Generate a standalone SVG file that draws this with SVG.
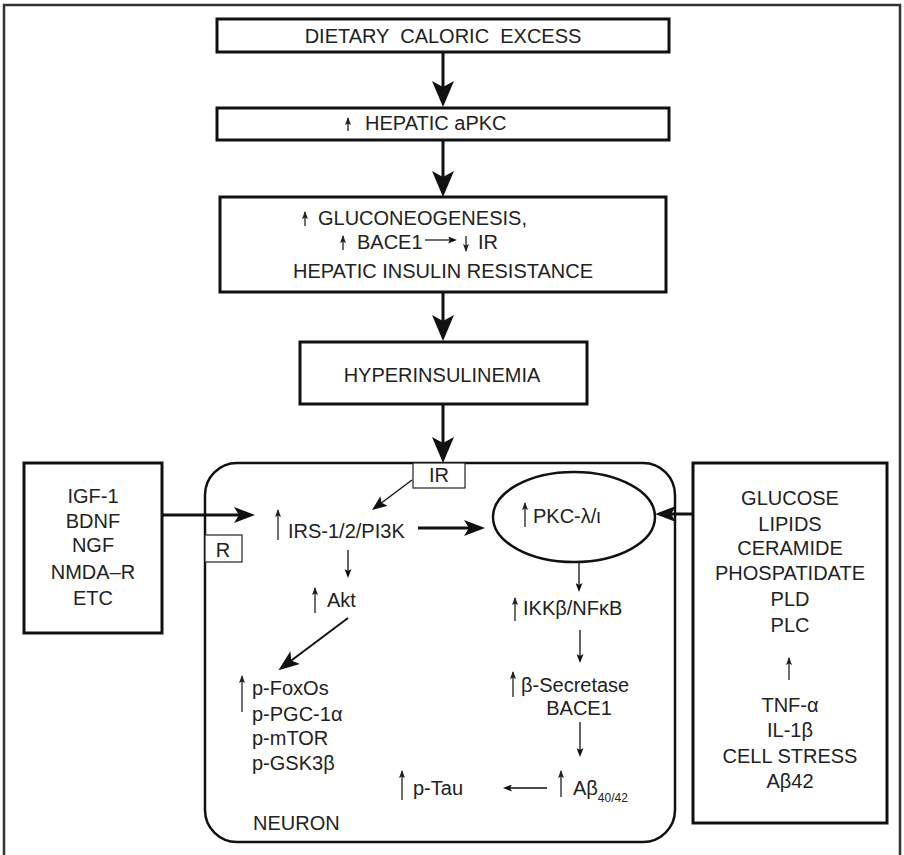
<svg xmlns="http://www.w3.org/2000/svg" width="904" height="855" viewBox="0 0 904 855">
<defs>
<style>
text{font-family:"Liberation Sans",Arial,sans-serif;font-size:20px;fill:#222}
.c{text-anchor:middle}
.box{fill:#fff;stroke:#111;stroke-width:3}
.thin{fill:none;stroke:#222;stroke-width:1.3}
.conn{fill:none;stroke:#111}
.w3{stroke-width:3}
.w2{stroke-width:2}
.w1{stroke-width:1.3}
</style>
<marker id="big" viewBox="0 0 26 22" refX="18" refY="11" markerWidth="26" markerHeight="22" markerUnits="userSpaceOnUse" orient="auto"><path d="M0,0 L26,11 L0,22 L6,11 Z" fill="#111"/></marker>
<marker id="med" viewBox="0 0 21 16" refX="14" refY="8" markerWidth="21" markerHeight="16" markerUnits="userSpaceOnUse" orient="auto"><path d="M0,0 L21,8 L0,16 L5,8 Z" fill="#111"/></marker>
<marker id="mid" viewBox="0 0 15 12" refX="10" refY="6" markerWidth="15" markerHeight="12" markerUnits="userSpaceOnUse" orient="auto"><path d="M0,0 L15,6 L0,12 L3,6 Z" fill="#111"/></marker>
<marker id="small" viewBox="0 0 9 7" refX="7" refY="3.5" markerWidth="9" markerHeight="7" markerUnits="userSpaceOnUse" orient="auto"><path d="M0,0 L9,3.5 L0,7 L2,3.5 Z" fill="#111"/></marker>
<marker id="tiny" viewBox="0 0 8 6" refX="7" refY="3" markerWidth="8" markerHeight="6" markerUnits="userSpaceOnUse" orient="auto"><path d="M0,0 L8,3 L0,6 L1.5,3 Z" fill="#222"/></marker>
</defs>

<rect x="4" y="5" width="896" height="870" fill="#fff" stroke="#333" stroke-width="2.5"/>

<g id="n-diet">
<rect class="box" x="217" y="19" width="452" height="33"/>
<text class="c" x="443" y="43" style="white-space:pre">DIETARY  CALORIC  EXCESS</text>
</g>

<g id="n-apkc">
<rect class="box" x="217" y="108" width="452" height="32"/>
<path class="thin" d="M348,131 V118" marker-end="url(#tiny)"/>
<text x="365" y="130">HEPATIC aPKC</text>
</g>

<g id="n-gluco">
<rect class="box" x="220" y="197" width="446" height="95"/>
<path class="thin" d="M305,226 V212" marker-end="url(#tiny)"/>
<text x="318" y="225">GLUCONEOGENESIS,</text>
<path class="thin" d="M343,250 V236" marker-end="url(#tiny)"/>
<text x="357" y="249">BACE1</text>
<path class="thin" d="M425,240 H455" marker-end="url(#small)"/>
<path class="thin" d="M466,236 V251" marker-end="url(#tiny)"/>
<text x="478" y="249">IR</text>
<text class="c" x="443" y="278">HEPATIC INSULIN RESISTANCE</text>
</g>

<g id="n-hyper">
<rect class="box" x="300" y="342" width="287" height="62"/>
<text class="c" x="442" y="382">HYPERINSULINEMIA</text>
</g>

<g id="n-neuron">
<rect x="205" y="463" width="470" height="379" rx="32" ry="32" fill="#fff" stroke="#111" stroke-width="2.5"/>
<text x="253" y="830">NEURON</text>
</g>

<g id="n-ir">
<rect x="413" y="463" width="52" height="25" fill="#fff" stroke="#222" stroke-width="1.2"/>
<text class="c" x="439" y="482">IR</text>
</g>

<g id="n-r">
<rect x="205" y="535" width="37" height="27" fill="#fff" stroke="#222" stroke-width="1.2"/>
<text class="c" x="223" y="557">R</text>
</g>

<g id="n-growth">
<rect class="box" x="24" y="463" width="138" height="170"/>
<text class="c" x="93" y="503">IGF-1</text>
<text class="c" x="93" y="528">BDNF</text>
<text class="c" x="93" y="552">NGF</text>
<text class="c" x="93" y="579">NMDA–R</text>
<text class="c" x="93" y="605">ETC</text>
</g>

<g id="n-stress">
<rect class="box" x="693" y="463" width="194" height="360"/>
<text class="c" x="790" y="505">GLUCOSE</text>
<text class="c" x="790" y="531">LIPIDS</text>
<text class="c" x="790" y="555">CERAMIDE</text>
<text class="c" x="790" y="580">PHOSPATIDATE</text>
<text class="c" x="790" y="606">PLD</text>
<text class="c" x="790" y="632">PLC</text>
<path class="thin" d="M789,680 V658" marker-end="url(#tiny)"/>
<text class="c" x="790" y="712">TNF-α</text>
<text class="c" x="790" y="737">IL-1β</text>
<text class="c" x="790" y="763">CELL STRESS</text>
<text class="c" x="790" y="788">Aβ42</text>
</g>

<g id="n-irs">
<path class="thin" d="M278,540 V510" marker-end="url(#tiny)"/>
<text x="288" y="538">IRS-1/2/PI3K</text>
</g>

<g id="n-pkc">
<ellipse cx="574" cy="517" rx="81" ry="45" fill="#fff" stroke="#111" stroke-width="2.5"/>
<path class="thin" d="M525,527 V503" marker-end="url(#tiny)"/>
<text x="533" y="523">PKC-λ/ι</text>
</g>

<g id="n-akt">
<path class="thin" d="M315,613 V588" marker-end="url(#tiny)"/>
<text x="327" y="607">Akt</text>
</g>

<g id="n-foxo">
<path class="thin" d="M242,712 V676" marker-end="url(#tiny)"/>
<text x="252" y="695">p-FoxOs</text>
<text x="252" y="721">p-PGC-1α</text>
<text x="252" y="745">p-mTOR</text>
<text x="252" y="770">p-GSK3β</text>
</g>

<g id="n-ikk">
<path class="thin" d="M515,621 V598" marker-end="url(#tiny)"/>
<text x="523" y="615">IKKβ/NFκB</text>
</g>

<g id="n-bsec">
<path class="thin" d="M513,697 V672" marker-end="url(#tiny)"/>
<text x="521" y="692">β-Secretase</text>
<text class="c" x="579" y="715">BACE1</text>
</g>

<g id="n-abeta">
<path class="thin" d="M561,797 V771" marker-end="url(#tiny)"/>
<text x="573" y="795">Aβ<tspan font-size="12" dy="7">40/42</tspan></text>
</g>

<g id="n-tau">
<path class="thin" d="M402,800 V771" marker-end="url(#tiny)"/>
<text x="413" y="795">p-Tau</text>
</g>

<g id="connectors">
<path class="conn w3" d="M443,52 V99" marker-end="url(#big)"/>
<path class="conn w3" d="M443,140 V189" marker-end="url(#big)"/>
<path class="conn w3" d="M443,292 V333" marker-end="url(#big)"/>
<path class="conn w3" d="M443,404 V455" marker-end="url(#big)"/>
<path class="conn w3" d="M162,515 H248" marker-end="url(#med)"/>
<path class="conn w3" d="M418,528 H478" marker-end="url(#med)"/>
<path class="conn w3" d="M694,514 H662" marker-end="url(#med)"/>
<path class="conn w2" d="M348,618 L284,666" marker-end="url(#med)"/>
<path class="conn w1" d="M412,480 L376,507" marker-end="url(#mid)"/>
<path class="conn w1" d="M348,550 V576" marker-end="url(#small)"/>
<path class="conn w1" d="M579,562 V590" marker-end="url(#small)"/>
<path class="conn w1" d="M580,630 V661" marker-end="url(#small)"/>
<path class="conn w1" d="M580,722 V755" marker-end="url(#small)"/>
<path class="conn w1" d="M547,788 H505" marker-end="url(#small)"/>
</g>
</svg>
